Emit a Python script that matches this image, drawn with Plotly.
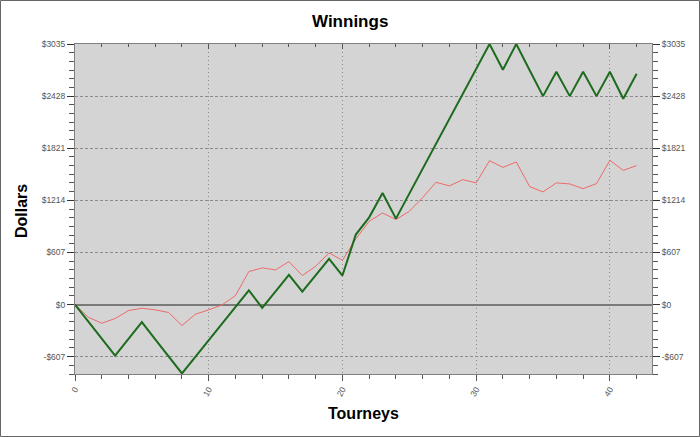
import plotly.graph_objects as go

tourneys = list(range(43))
total_winnings = [0, -198, -397, -595, -400, -206, -405, -604, -803, -609,
                  -416, -222, -29, 165, -38, 154, 346, 151, 342, 532,
                  338, 815, 1016, 1300, 1001, 1291, 1582, 1872, 2163, 2454,
                  2744, 3035, 2735, 3035, 2730, 2428, 2712, 2428, 2712, 2428,
                  2712, 2398, 2689]
other_winnings = [0, -148, -218, -163, -70, -43, -62, -93, -244, -113,
                  -62, -4, 105, 384, 427, 404, 500, 338, 446, 602,
                  516, 765, 970, 1067, 990, 1086, 1246, 1424, 1382, 1455,
                  1417, 1676, 1598, 1661, 1374, 1312, 1417, 1405, 1350, 1409,
                  1680, 1563, 1618]
y_tick_vals = [-607, 0, 607, 1214, 1821, 2428, 3035]
y_tick_text = ["-$607", "$0", "$607", "$1214", "$1821", "$2428", "$3035"]
x_tick_vals = [0, 10, 20, 30, 40]

X_RANGE = [0, 43.15]
Y_RANGE = [-809, 3035]
FONT = "Liberation Sans, Arial, sans-serif"
TICKFONT = dict(family=FONT, size=8.5, color="#555555")

fig = go.Figure()
fig.add_trace(go.Scatter(x=tourneys, y=other_winnings, mode="lines",
                         line=dict(color="#ee6a6a", width=1),
                         showlegend=False, hoverinfo="skip"))
fig.add_trace(go.Scatter(x=tourneys, y=total_winnings, mode="lines",
                         line=dict(color="#1d6b1d", width=2),
                         showlegend=False, hoverinfo="skip"))
# invisible trace to materialise the mirrored (top/right) axes
fig.add_trace(go.Scatter(x=tourneys, y=total_winnings, mode="lines",
                         xaxis="x2", yaxis="y2", opacity=0,
                         showlegend=False, hoverinfo="skip"))

fig.update_layout(
    width=700, height=437,
    margin=dict(l=75, r=48, t=44, b=63),
    paper_bgcolor="white",
    plot_bgcolor="#d4d4d4",
    font=dict(family=FONT),
    xaxis=dict(range=X_RANGE, tickvals=x_tick_vals, tickangle=-60,
               tickfont=TICKFONT, ticks="outside", ticklen=6, tickcolor="#555555",
               showline=True, linecolor="#808080", linewidth=1,
               showgrid=True, gridcolor="#8c8c8c", griddash="1px,3px", gridwidth=1,
               zeroline=False,
               minor=dict(dtick=2, tick0=0, ticks="outside", ticklen=4,
                          tickcolor="#555555", showgrid=False)),
    xaxis2=dict(range=X_RANGE, overlaying="x", side="top", anchor="y",
                tickvals=x_tick_vals, showticklabels=False,
                ticks="inside", ticklen=5, tickcolor="#555555",
                showline=True, linecolor="#808080", linewidth=1,
                showgrid=False, zeroline=False,
                minor=dict(dtick=2, tick0=0, ticks="inside", ticklen=3,
                           tickcolor="#555555", showgrid=False)),
    yaxis=dict(range=Y_RANGE, tickvals=y_tick_vals, ticktext=y_tick_text,
               tickfont=TICKFONT, ticks="outside", ticklen=7, tickcolor="#333333",
               showline=True, linecolor="#808080", linewidth=1,
               showgrid=True, gridcolor="#8c8c8c", griddash="3px,2px", gridwidth=1,
               zeroline=True, zerolinecolor="#7a7a7a", zerolinewidth=2,
               minor=dict(dtick=607/6, tick0=0, ticks="outside", ticklen=5,
                          tickcolor="#555555", showgrid=False)),
    yaxis2=dict(range=Y_RANGE, overlaying="y", side="right", anchor="x2",
                tickvals=y_tick_vals, ticktext=y_tick_text,
                tickfont=TICKFONT, ticks="outside", ticklen=7, tickcolor="#333333",
                showline=True, linecolor="#808080", linewidth=1,
                showgrid=False, zeroline=False,
                minor=dict(dtick=607/6, tick0=0, ticks="outside", ticklen=5,
                           tickcolor="#555555", showgrid=False)),
    annotations=[
        dict(text="<b>Winnings</b>", xref="paper", yref="paper",
             x=(350 - 75) / 577, y=(374 - 21) / 330, showarrow=False,
             xanchor="center", yanchor="middle",
             font=dict(family=FONT, size=17, color="black")),
        dict(text="<b>Dollars</b>", xref="paper", yref="paper",
             x=(21 - 75) / 577, y=(374 - 211) / 330, showarrow=False,
             textangle=-90, xanchor="center", yanchor="middle",
             font=dict(family=FONT, size=16, color="black")),
        dict(text="<b>Tourneys</b>", xref="paper", yref="paper",
             x=(363 - 75) / 577, y=(374 - 414) / 330, showarrow=False,
             xanchor="center", yanchor="middle",
             font=dict(family=FONT, size=16, color="black")),
    ],
    shapes=[
        dict(type="rect", xref="paper", yref="paper",
             x0=(0.5 - 75) / 577, x1=(699.5 - 75) / 577,
             y0=(374 - 436.5) / 330, y1=(374 - 0.5) / 330,
             line=dict(color="#666666", width=1), fillcolor="rgba(0,0,0,0)",
             layer="below"),
    ],
)

fig.write_html("out.html",
               config={"displayModeBar": False},
               post_script="document.body.style.margin='0';document.body.style.overflow='hidden';")
